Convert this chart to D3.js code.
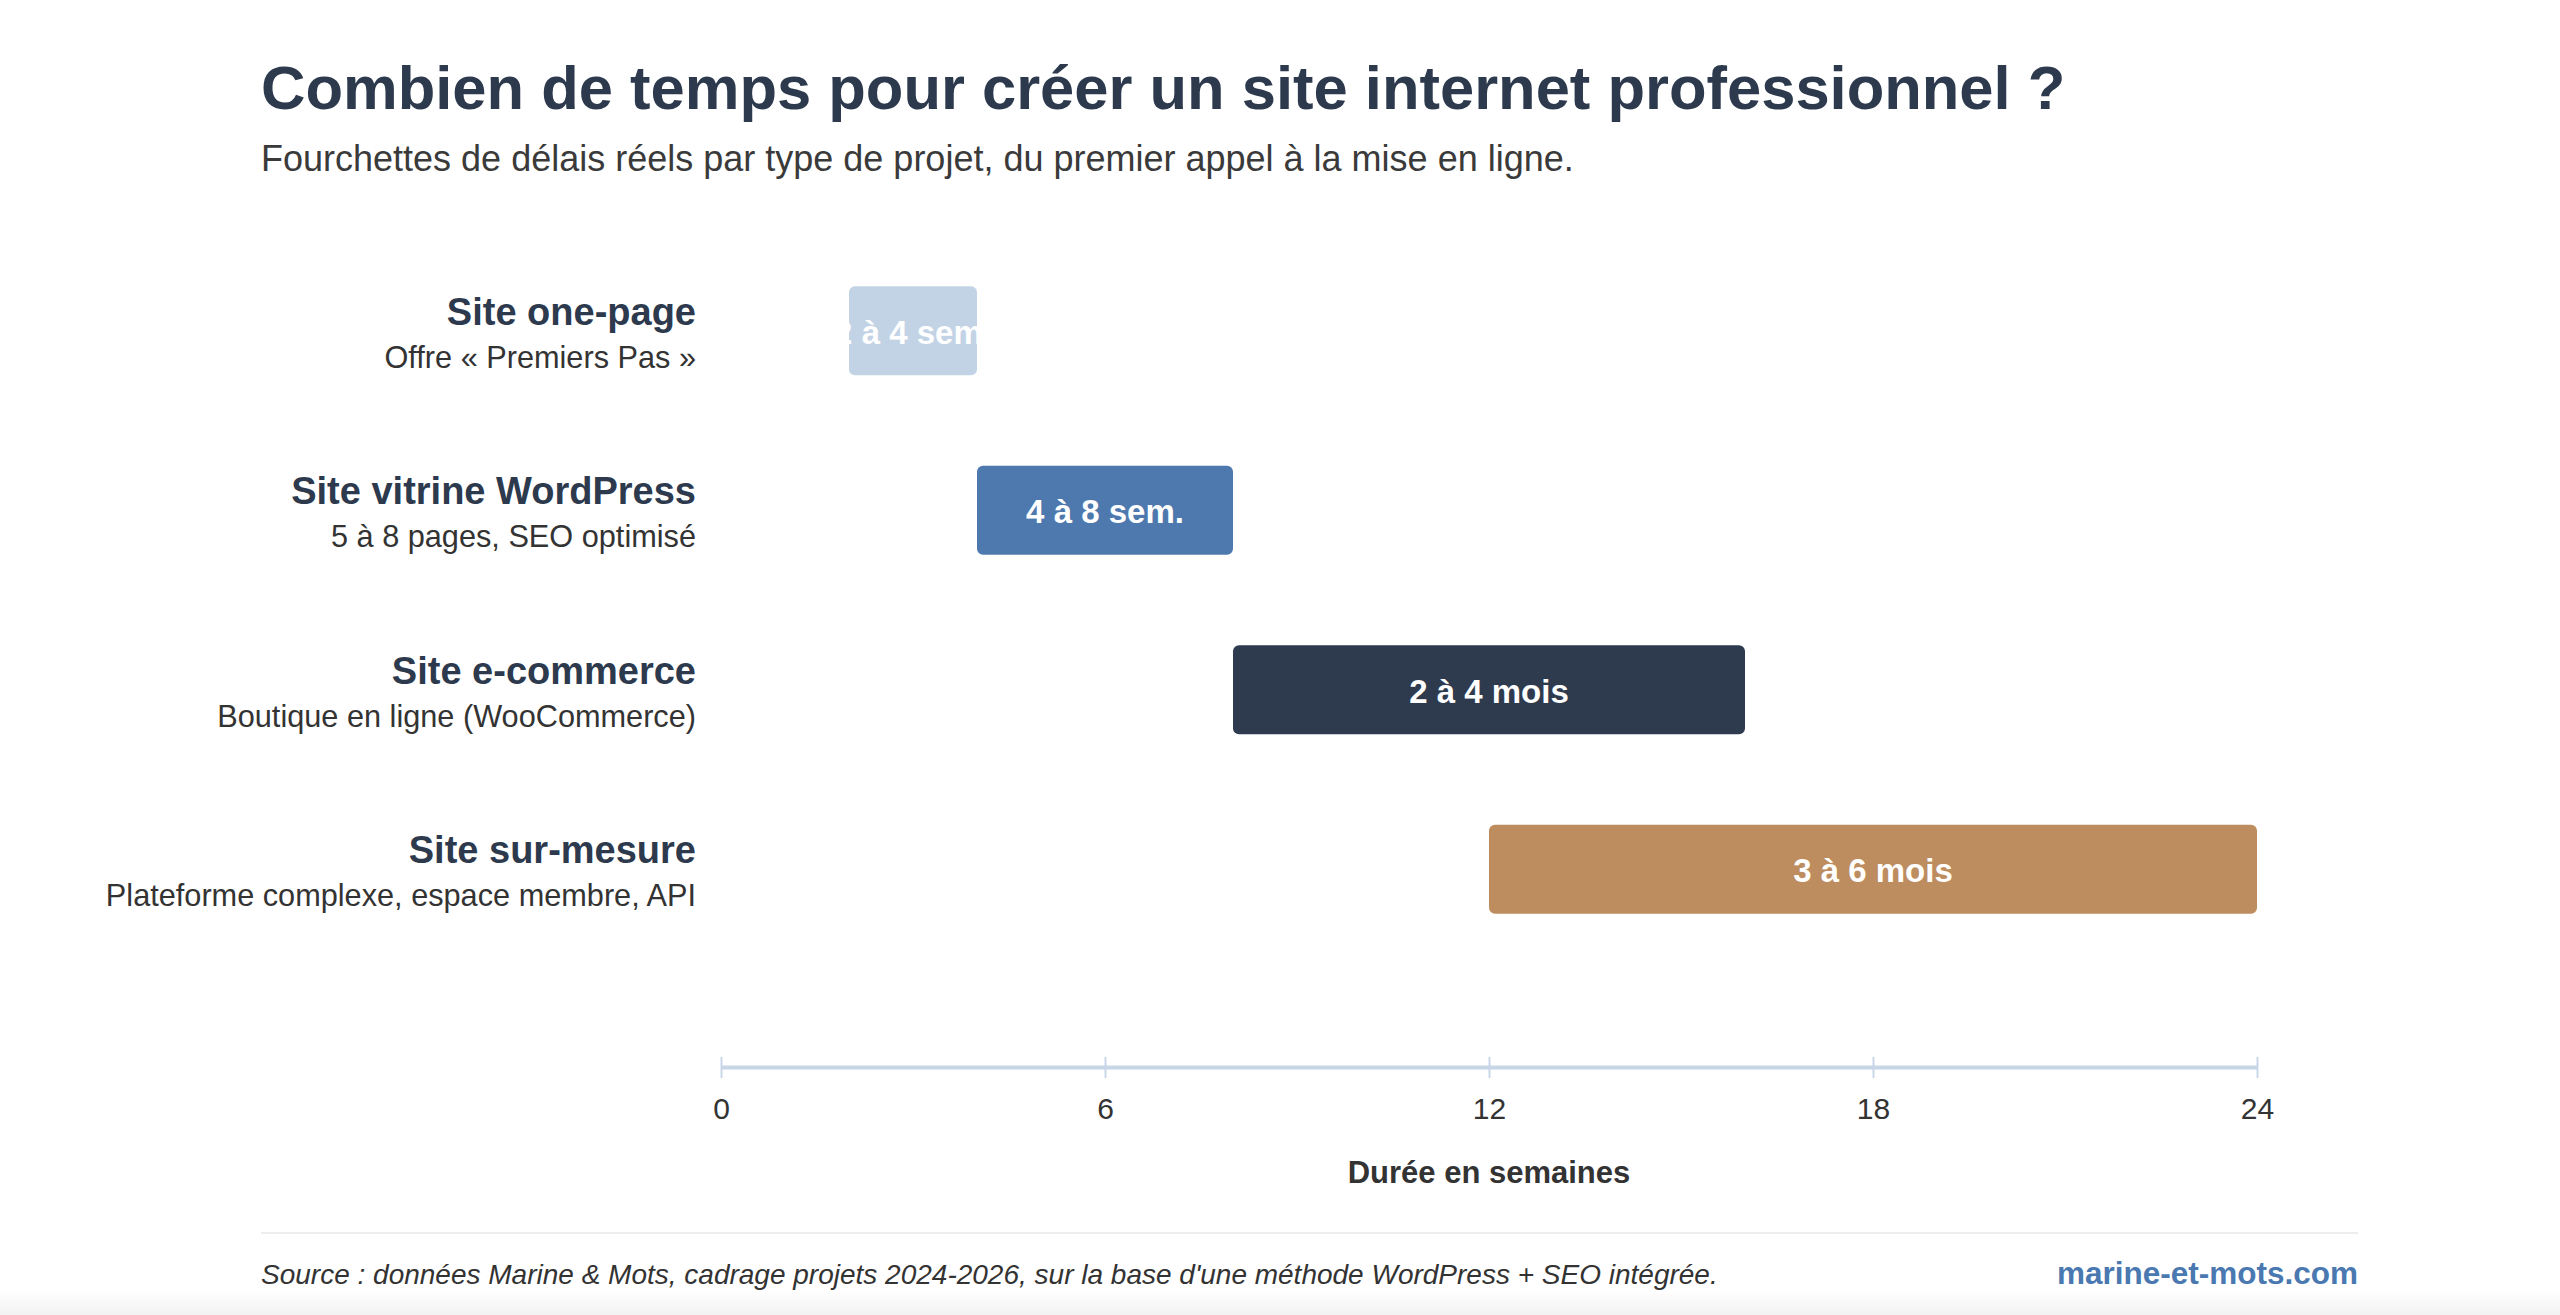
<!DOCTYPE html>
<html lang="fr">
<head>
<meta charset="utf-8">
<title>Combien de temps pour créer un site internet professionnel ?</title>
<script src="https://cdn.jsdelivr.net/npm/d3@7"></script>
<style>
    body { margin: 0; background: #ffffff; font-family: "Liberation Sans", Arial, Helvetica, sans-serif; }
    svg { display: block; }
</style>
</head>
<body>
<svg id="chart"></svg>
<script>
// données
const projets = ["Site one-page", "Site vitrine WordPress", "Site e-commerce", "Site sur-mesure"];
const details = ["Offre « Premiers Pas »", "5 à 8 pages, SEO optimisé", "Boutique en ligne (WooCommerce)", "Plateforme complexe, espace membre, API"];
const debutSemaines = [2, 4, 8, 12];
const finSemaines = [4, 8, 16, 24];
const etiquettes = ["2 à 4 sem.", "4 à 8 sem.", "2 à 4 mois", "3 à 6 mois"];
const graduations = [0, 6, 12, 18, 24];

const width = 2560, height = 1315;
const navy = '#2d3a4e';

const svg = d3.select('#chart')
    .attr('width', width)
    .attr('height', height);

// légère ombre en bas de la carte
const defs = svg.append('defs');
const grad = defs.append('linearGradient')
    .attr('id', 'ombre')
    .attr('x1', 0).attr('x2', 0).attr('y1', 0).attr('y2', 1);
grad.append('stop').attr('offset', '0%').attr('stop-color', '#ffffff');
grad.append('stop').attr('offset', '100%').attr('stop-color', '#f2f2f2');
svg.append('rect')
    .attr('x', 0).attr('y', 1290)
    .attr('width', width).attr('height', 25)
    .attr('fill', 'url(#ombre)');

// titre et sous-titre
svg.append('text')
    .attr('x', 261)
    .attr('y', 109)
    .attr('fill', navy)
    .style('font-size', '61.5px')
    .style('font-weight', 'bold')
    .text('Combien de temps pour créer un site internet professionnel ?');

svg.append('text')
    .attr('x', 261)
    .attr('y', 171)
    .attr('fill', '#3a3a3a')
    .style('font-size', '36px')
    .text('Fourchettes de délais réels par type de projet, du premier appel à la mise en ligne.');

const rows = projets.map((p, i) => ({
    projet: p,
    detail: details[i],
    debut: debutSemaines[i],
    fin: finSemaines[i],
    label: etiquettes[i]
}));

const x = d3.scaleLinear()
    .domain([0, 24])
    .range([721, 2257]);

const y = d3.scaleBand()
    .domain(projets)
    .range([241, 959])
    .paddingInner(0.505)
    .paddingOuter(0.2525);

const couleur = d3.scaleOrdinal()
    .domain(projets)
    .range(['#c3d3e6', '#4d79ae', '#2e3b4e', '#bd8d5f']);

// libellés des catégories
const cat = svg.append('g')
    .selectAll('g')
    .data(rows)
    .join('g')
    .attr('transform', d => `translate(696,${y(d.projet) + y.bandwidth() / 2})`);

cat.append('text')
    .attr('y', -6)
    .attr('text-anchor', 'end')
    .attr('fill', navy)
    .style('font-size', '38px')
    .style('font-weight', 'bold')
    .text(d => d.projet);

cat.append('text')
    .attr('y', 37)
    .attr('text-anchor', 'end')
    .attr('fill', '#333')
    .style('font-size', '30.7px')
    .text(d => d.detail);

// barres
rows.forEach((d, i) => {
    defs.append('clipPath')
        .attr('id', 'clip-' + i)
        .append('rect')
        .attr('x', x(d.debut))
        .attr('y', y(d.projet))
        .attr('width', x(d.fin) - x(d.debut))
        .attr('height', y.bandwidth())
        .attr('rx', 6);
});

const bars = svg.append('g')
    .selectAll('g')
    .data(rows)
    .join('g');

bars.append('rect')
    .attr('x', d => x(d.debut))
    .attr('y', d => y(d.projet))
    .attr('width', d => x(d.fin) - x(d.debut))
    .attr('height', y.bandwidth())
    .attr('rx', 6)
    .attr('fill', d => couleur(d.projet));

bars.append('text')
    .attr('clip-path', (d, i) => `url(#clip-${i})`)
    .attr('x', d => (x(d.debut) + x(d.fin)) / 2)
    .attr('y', d => y(d.projet) + y.bandwidth() / 2 + 13)
    .attr('text-anchor', 'middle')
    .attr('fill', '#ffffff')
    .style('font-size', '33px')
    .style('font-weight', 'bold')
    .text(d => d.label);

// axe des semaines
const axis = svg.append('g')
    .attr('transform', 'translate(0,1067)')
    .call(d3.axisBottom(x).tickValues(graduations).tickSizeOuter(0).tickFormat(d3.format('d')));

axis.select('.domain')
    .attr('stroke', '#c8d6e8')
    .attr('stroke-width', 4);

axis.selectAll('.tick line')
    .attr('y1', -10)
    .attr('y2', 11)
    .attr('stroke', '#c8d6e8')
    .attr('stroke-width', 2);

axis.selectAll('.tick text')
    .attr('y', 52)
    .attr('dy', 0)
    .attr('fill', '#333')
    .style('font-size', '30px')
    .style('font-family', '"Liberation Sans", Arial, sans-serif');

svg.append('text')
    .attr('x', x(12))
    .attr('y', 1183)
    .attr('text-anchor', 'middle')
    .attr('fill', '#333')
    .style('font-size', '31px')
    .style('font-weight', 'bold')
    .text('Durée en semaines');

// pied de page
svg.append('line')
    .attr('x1', 261).attr('x2', 2358)
    .attr('y1', 1233).attr('y2', 1233)
    .attr('stroke', '#eeeeee')
    .attr('stroke-width', 2);

svg.append('text')
    .attr('x', 261)
    .attr('y', 1284)
    .attr('fill', '#333')
    .style('font-size', '28px')
    .style('font-style', 'italic')
    .text("Source : données Marine & Mots, cadrage projets 2024-2026, sur la base d'une méthode WordPress + SEO intégrée.");

svg.append('text')
    .attr('x', 2358)
    .attr('y', 1284)
    .attr('text-anchor', 'end')
    .attr('fill', '#4a78b0')
    .style('font-size', '31.5px')
    .style('font-weight', 'bold')
    .text('marine-et-mots.com');
</script>
</body>
</html>
